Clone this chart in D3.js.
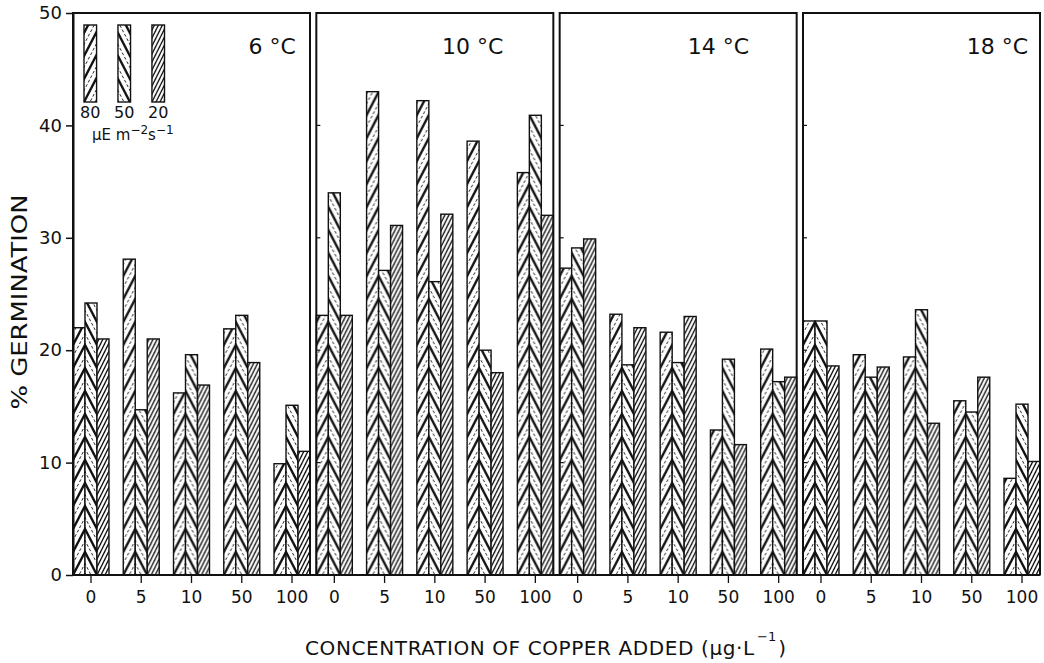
<!DOCTYPE html>
<html>
<head>
<meta charset="utf-8">
<script src="https://cdn.jsdelivr.net/npm/d3@7"></script>
<style>
  body { margin: 0; background: #fff; }
  text { font-family: "DejaVu Sans", sans-serif; fill: #111; }
</style>
</head>
<body>
<div id="graph"></div>
<script>
// temperature panels, copper concentrations and light levels (µE m-2 s-1)
var temps = ["6 °C", "10 °C", "14 °C", "18 °C"];
var concentrations = ["0", "5", "10", "50", "100"];
var irradiance = ["80", "50", "20"];
var yTicks = [0, 10, 20, 30, 40, 50];

// % germination, one row per temperature, one value per concentration
var germ80 = [
    [22.0, 28.1, 16.2, 21.9, 9.9],
    [23.1, 43.0, 42.2, 38.6, 35.8],
    [27.3, 23.2, 21.6, 12.9, 20.1],
    [22.6, 19.6, 19.4, 15.5, 8.6]
];
var germ50 = [
    [24.2, 14.7, 19.6, 23.1, 15.1],
    [34.0, 27.1, 26.1, 20.0, 40.9],
    [29.1, 18.7, 18.9, 19.2, 17.2],
    [22.6, 17.6, 23.6, 14.5, 15.2]
];
var germ20 = [
    [21.0, 21.0, 16.9, 18.9, 11.0],
    [23.1, 31.1, 32.1, 18.0, 32.0],
    [29.9, 22.0, 23.0, 11.6, 17.6],
    [18.6, 18.5, 13.5, 17.6, 10.1]
];
var series = [germ80, germ50, germ20];

// where the temperature label sits inside each panel (fraction of width)
var labelPos = [0.84, 0.66, 0.67, 0.82];

var ink = "#111";

var svg = d3.select("#graph").append("svg")
    .attr("width", 1044)
    .attr("height", 663);

svg.append("rect").attr("width", 1044).attr("height", 663).attr("fill", "#fff");

// scales
var y = d3.scaleLinear().domain([0, 50]).range([575, 13]);
var xPanel = d3.scaleBand().domain(temps).range([73, 1040]).paddingInner(0.026);
var xConc = d3.scaleBand().domain(concentrations).range([0, xPanel.bandwidth()]).paddingInner(0.284);
var xLight = d3.scaleBand().domain(irradiance).range([0, xConc.bandwidth()]);
var bw = xLight.bandwidth();

// ****************** hatch patterns ***************************
var defs = svg.append("defs");
var P = 23; // vertical period of the coarse hatching

function coarse(id, dir) {
    var p = defs.append("pattern")
        .attr("id", id)
        .attr("patternUnits", "userSpaceOnUse")
        .attr("width", bw)
        .attr("height", P);
    p.append("rect").attr("width", bw).attr("height", P).attr("fill", "#fff");
    [-1, 0, 1].forEach(function(k) {
        var o = k * P;
        // thick line, then a thin one half a period away
        [[0, 2.4], [P / 2, 0.9]].forEach(function(s) {
            var off = o + s[0];
            var line = dir > 0
                ? [-bw, 2 * P + off, 2 * bw, -P + off]
                : [-bw, -P + off, 2 * bw, 2 * P + off];
            p.append("line")
                .attr("x1", line[0]).attr("y1", line[1])
                .attr("x2", line[2]).attr("y2", line[3])
                .attr("stroke", ink)
                .attr("stroke-width", s[1])
                .attr("stroke-dasharray", s[1] < 1 ? "3,2" : null);
        });
    });
}
coarse("hatch80", 1);
coarse("hatch50", -1);

var fine = defs.append("pattern")
    .attr("id", "hatch20")
    .attr("patternUnits", "userSpaceOnUse")
    .attr("width", 4)
    .attr("height", 8);
fine.append("rect").attr("width", 4).attr("height", 8).attr("fill", "#fff");
[-8, 0, 8].forEach(function(o) {
    fine.append("line")
        .attr("x1", -4).attr("y1", 16 + o)
        .attr("x2", 8).attr("y2", -8 + o)
        .attr("stroke", ink)
        .attr("stroke-width", 1.3);
});
var fills = ["url(#hatch80)", "url(#hatch50)", "url(#hatch20)"];

// ****************** bars ***************************
var panel = svg.selectAll("g.panel")
    .data(temps)
    .enter().append("g")
    .attr("class", "panel")
    .attr("transform", function(t) { return "translate(" + xPanel(t) + ",0)"; });

var group = panel.selectAll("g.group")
    .data(function(t, i) {
        return concentrations.map(function(c, j) {
            return { conc: c, values: series.map(function(s) { return s[i][j]; }) };
        });
    })
    .enter().append("g")
    .attr("class", "group")
    .attr("transform", function(d) { return "translate(" + xConc(d.conc) + ",0)"; });

var bar = group.selectAll("g.bar")
    .data(function(d) {
        return d.values.map(function(v, k) { return { light: irradiance[k], k: k, v: v }; });
    })
    .enter().append("g")
    .attr("class", "bar")
    .attr("transform", function(d) { return "translate(" + xLight(d.light) + "," + y(0) + ")"; });

bar.append("rect")
    .attr("x", 0)
    .attr("y", function(d) { return y(d.v) - y(0); })
    .attr("width", bw)
    .attr("height", function(d) { return y(0) - y(d.v); })
    .attr("fill", function(d) { return fills[d.k]; })
    .attr("stroke", ink)
    .attr("stroke-width", 1.4);

// ****************** frames and axes ***************************
panel.append("path")
    .attr("d", "M0," + y(0) + "V" + y(50) + "H" + xPanel.bandwidth() + "V" + y(0))
    .attr("fill", "none")
    .attr("stroke", ink)
    .attr("stroke-width", 2);

// small inner ticks on the left edge of panels 2-4
panel.filter(function(t, i) { return i > 0; })
    .selectAll("line.itick")
    .data(yTicks.slice(1, 5))
    .enter().append("line")
    .attr("x1", 0).attr("x2", 4)
    .attr("y1", function(v) { return y(v); })
    .attr("y2", function(v) { return y(v); })
    .attr("stroke", ink)
    .attr("stroke-width", 1.2);

panel.append("text")
    .attr("x", function(t, i) { return xPanel.bandwidth() * labelPos[i]; })
    .attr("y", 54)
    .attr("text-anchor", "middle")
    .style("font-size", "22px")
    .text(function(t) { return t; });

svg.append("line")
    .attr("x1", 73).attr("x2", 1040)
    .attr("y1", y(0)).attr("y2", y(0))
    .attr("stroke", ink)
    .attr("stroke-width", 2);

var yAxis = svg.append("g")
    .attr("transform", "translate(73,0)")
    .call(d3.axisLeft(y).tickValues(yTicks).tickSize(7).tickSizeOuter(0).tickPadding(4));
yAxis.select(".domain").attr("stroke", ink).attr("stroke-width", 2);
yAxis.selectAll(".tick line").attr("stroke", ink).attr("stroke-width", 1.5);
yAxis.selectAll(".tick text").style("font-size", "18px").attr("fill", ink);

panel.append("g")
    .attr("transform", "translate(0," + (y(0) + 1) + ")")
    .each(function() {
        var ax = d3.select(this).call(d3.axisBottom(xConc).tickSize(7).tickSizeOuter(0).tickPadding(8));
        ax.select(".domain").remove();
        ax.selectAll(".tick line").attr("stroke", ink).attr("stroke-width", 1.3);
        ax.selectAll(".tick text").style("font-size", "17px").attr("fill", ink);
    });

// ****************** titles and legend ***************************
svg.append("text")
    .attr("transform", "translate(27,302) rotate(-90)")
    .attr("text-anchor", "middle")
    .attr("textLength", 215)
    .attr("lengthAdjust", "spacingAndGlyphs")
    .style("font-size", "21px")
    .text("% GERMINATION");

// x title: main part, exponent and closing bracket, placed by measured widths
var xt = svg.append("text")
    .attr("x", 305)
    .attr("y", 655)
    .style("font-size", "20px")
    .style("letter-spacing", "0.6px")
    .text("CONCENTRATION OF COPPER ADDED (μg·L");
var xtEnd = 305 + xt.node().getBBox().width;
var sup = svg.append("text")
    .attr("x", xtEnd + 2)
    .attr("y", 641)
    .style("font-size", "13px")
    .text("−1");
svg.append("text")
    .attr("x", xtEnd + 4 + sup.node().getBBox().width)
    .attr("y", 655)
    .style("font-size", "20px")
    .text(")");

var xLeg = d3.scaleBand().domain(irradiance).range([84, 164.5]).paddingInner(0.63);
var leg = svg.selectAll("g.leg")
    .data(irradiance)
    .enter().append("g")
    .attr("class", "leg")
    .attr("transform", function(l) { return "translate(" + xLeg(l) + ",102)"; });
leg.append("rect")
    .attr("x", 0).attr("y", -77)
    .attr("width", xLeg.bandwidth()).attr("height", 77)
    .attr("fill", function(l, k) { return fills[k]; })
    .attr("stroke", ink)
    .attr("stroke-width", 1.4);
leg.append("text")
    .attr("x", xLeg.bandwidth() / 2)
    .attr("y", 16)
    .attr("text-anchor", "middle")
    .style("font-size", "16px")
    .text(function(l) { return l; });

var unit = svg.append("text")
    .attr("x", 92)
    .attr("y", 140)
    .style("font-size", "15px");
unit.append("tspan").text("μE m");
unit.append("tspan").attr("dy", -6).style("font-size", "12px").text("−2");
unit.append("tspan").attr("dy", 6).text("s");
unit.append("tspan").attr("dy", -6).style("font-size", "12px").text("−1");
</script>
</body>
</html>
